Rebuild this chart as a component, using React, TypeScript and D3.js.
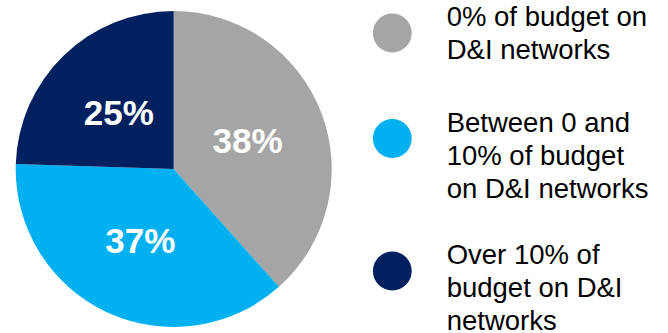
import React from "react";
import * as d3 from "d3";

const categories = [
  ["0% of budget on", "D&I networks"],
  ["Between 0 and", "10% of budget", "on D&I networks"],
  ["Over 10% of", "budget on D&I", "networks"],
];
const shares = [38.4, 37.1, 24.5];
const sliceLabels = ["38%", "37%", "25%"];
const colors = ["#A5A5A5", "#00B0F0", "#002060"];

const W = 668;
const H = 333;
const cx = 173.7;
const cy = 169;
const R = 158;

export default function App() {
  const pie = d3.pie<number>().sort(null).value((d) => d)(shares);
  const arc = d3.arc<d3.PieArcDatum<number>>().innerRadius(0).outerRadius(R);
  const labelArc = d3.arc<d3.PieArcDatum<number>>().innerRadius(R).outerRadius(0);

  const legendFirstBaseline = [26, 131.5, 264];
  const lineH = 33;

  return (
    <svg
      width={W}
      height={H}
      style={{ position: "absolute", left: 0, top: 0, background: "#fff" }}
      fontFamily="'Liberation Sans', Arial, sans-serif"
    >
      <g transform={`translate(${cx},${cy})`}>
        {pie.map((p, i) => (
          <path key={i} d={arc(p) || ""} fill={colors[i]} />
        ))}
        {pie.map((p, i) => {
          const [x, y] = labelArc.centroid(p);
          return (
            <text
              key={"l" + i}
              x={x}
              y={y + 12.5}
              textAnchor="middle"
              fill="#fff"
              fontWeight="bold"
              fontSize={35}
            >
              {sliceLabels[i]}
            </text>
          );
        })}
      </g>
      {categories.map((lines, i) => (
        <g key={"g" + i}>
          <circle cx={392.3} cy={legendFirstBaseline[i] + 7} r={19.4} fill={colors[i]} />
          <text x={446.7} y={legendFirstBaseline[i]} fontSize={27.5} fill="#000">
            {lines.map((ln, j) => (
              <tspan key={j} x={446.7} dy={j === 0 ? 0 : lineH}>
                {ln}
              </tspan>
            ))}
          </text>
        </g>
      ))}
    </svg>
  );
}
